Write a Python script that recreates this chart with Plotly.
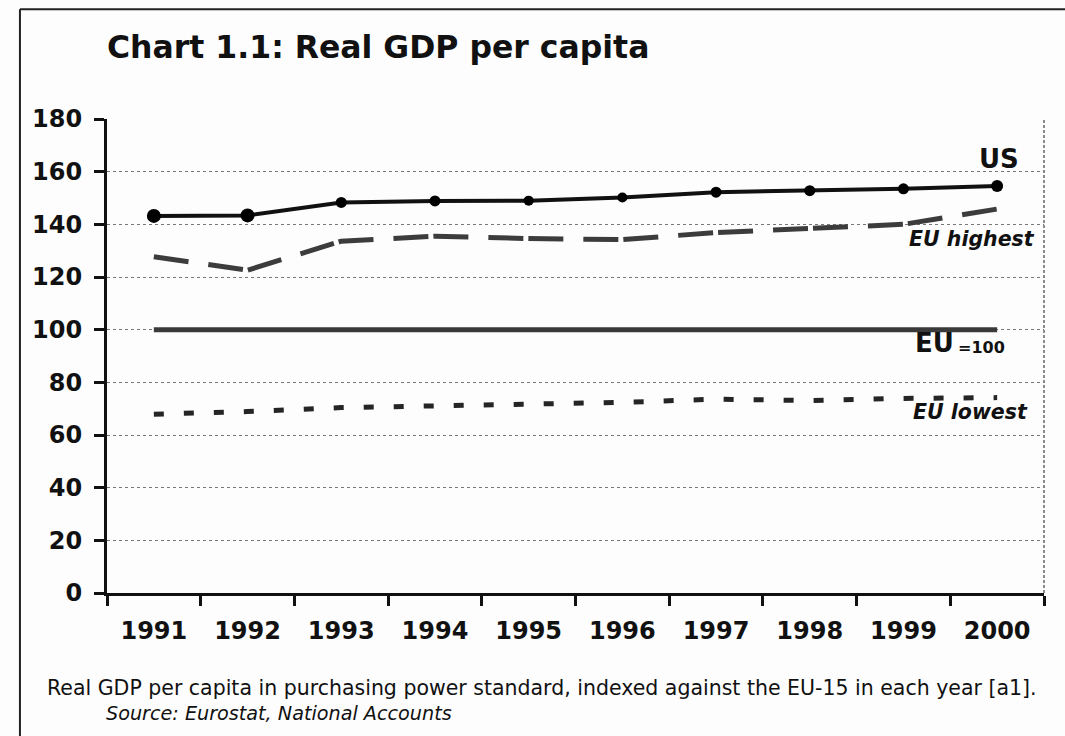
import plotly.graph_objects as go

years = ["1991", "1992", "1993", "1994", "1995", "1996", "1997", "1998", "1999", "2000"]
us = [143.2, 143.4, 148.3, 148.9, 149.0, 150.2, 152.2, 152.8, 153.5, 154.6]
eu_highest = [127.7, 122.6, 133.6, 135.5, 134.6, 134.2, 136.9, 138.6, 140.0, 145.8]
eu_100 = [100, 100, 100, 100, 100, 100, 100, 100, 100, 100]
eu_lowest = [67.9, 68.9, 70.4, 71.0, 71.5, 72.4, 73.6, 73.1, 73.9, 74.2]
y_ticks = [0, 20, 40, 60, 80, 100, 120, 140, 160, 180]

title_text = "Chart 1.1: Real GDP per capita"
caption_text = "Real GDP per capita in purchasing power standard, indexed against the EU-15 in each year [a1]."
source_text = "Source: Eurostat, National Accounts"

FONT = "DejaVu Sans, Liberation Sans, Arial, sans-serif"

fig = go.Figure()

fig.add_trace(go.Scatter(
    x=years, y=eu_lowest, mode="lines", name="EU lowest",
    line=dict(color="#252525", width=5, dash="10px,20px"),
))
fig.add_trace(go.Scatter(
    x=years, y=eu_100, mode="lines", name="EU=100",
    line=dict(color="#3a3a3a", width=5),
))
fig.add_trace(go.Scatter(
    x=years, y=eu_highest, mode="lines", name="EU highest",
    line=dict(color="#3c3c3c", width=5, dash="35px,20px,35px,5px"),
))
fig.add_trace(go.Scatter(
    x=years, y=us, mode="lines+markers", name="US",
    line=dict(color="#111111", width=4),
    marker=dict(color="#000000", size=[14, 14, 11, 11, 10, 10, 11, 11, 11, 12],
                opacity=1, line=dict(width=0)),
))

# right dotted border of plot area
fig.add_shape(type="line", xref="paper", yref="paper", x0=1, x1=1, y0=0, y1=1,
              line=dict(color="#666666", width=1.5, dash="3px,2px"), layer="below")
# outer frame (left and top)
fig.add_shape(type="line", xref="paper", yref="paper", x0=-0.0929, x1=1.2, y0=1.2313, y1=1.2313,
              line=dict(color="#222222", width=2))
fig.add_shape(type="line", xref="paper", yref="paper", x0=-0.0929, x1=-0.0929, y0=1.2313, y1=-0.4,
              line=dict(color="#222222", width=2))

fig.add_annotation(text="<b>" + title_text + "</b>", xref="paper", yref="paper",
                   x=-0.0021, y=1.1509, xanchor="left", yanchor="middle",
                   showarrow=False, font=dict(family=FONT, size=31.5, color="#111111"))

fig.add_annotation(text="<b>US</b>", xref="x", yref="y", x=9.25, y=165.0,
                   xanchor="right", yanchor="middle", showarrow=False,
                   font=dict(family=FONT, size=26, color="#111111"))
fig.add_annotation(text="<b><i>EU highest</i></b>", xref="x", yref="y", x=9.42, y=134.5,
                   xanchor="right", yanchor="middle", showarrow=False,
                   font=dict(family=FONT, size=20.5, color="#111111"))
fig.add_annotation(text="<b>EU</b>", xref="x", yref="y", x=8.10, y=95.0,
                   xanchor="left", yanchor="middle", showarrow=False,
                   font=dict(family=FONT, size=26, color="#111111"))
fig.add_annotation(text="<b>=100</b>", xref="x", yref="y", x=8.56, y=93.3,
                   xanchor="left", yanchor="middle", showarrow=False,
                   font=dict(family=FONT, size=16, color="#111111"))
fig.add_annotation(text="<b><i>EU lowest</i></b>", xref="x", yref="y", x=9.35, y=68.8,
                   xanchor="right", yanchor="middle", showarrow=False,
                   font=dict(family=FONT, size=20.5, color="#111111"))

fig.add_annotation(text=caption_text, xref="paper", yref="paper",
                   x=-0.0667, y=-0.2002, xanchor="left", yanchor="middle",
                   showarrow=False, font=dict(family=FONT, size=20.5, color="#111111"))
fig.add_annotation(text="<i>" + source_text + "</i>", xref="paper", yref="paper",
                   x=-0.0032, y=-0.2551, xanchor="left", yanchor="middle",
                   showarrow=False, font=dict(family=FONT, size=19.2, color="#111111"))

fig.update_layout(
    width=1065, height=736,
    margin=dict(l=107, r=21, t=119, b=143),
    paper_bgcolor="#fdfdfd", plot_bgcolor="#fdfdfd",
    showlegend=False,
    font=dict(family=FONT, color="#111111"),
)
fig.update_xaxes(
    type="category", range=[-0.5, 9.5],
    showline=True, linecolor="#111111", linewidth=3,
    ticks="outside", tickson="boundaries", ticklen=10, tickwidth=3, tickcolor="#111111",
    tickfont=dict(family=FONT, size=24, color="#111111", weight="bold"),
    ticklabelstandoff=14,
    showgrid=False, zeroline=False,
)
fig.update_yaxes(
    range=[0, 180], tickvals=y_ticks, ticktext=[str(v) for v in y_ticks],
    showline=True, linecolor="#111111", linewidth=3,
    ticks="outside", ticklen=10, tickwidth=3, tickcolor="#111111",
    tickfont=dict(family=FONT, size=24, color="#111111", weight="bold"),
    ticklabelstandoff=7,
    showgrid=True, gridcolor="#777777", gridwidth=1, griddash="3px,3px",
    zeroline=False,
)

fig.write_html("out.html")
